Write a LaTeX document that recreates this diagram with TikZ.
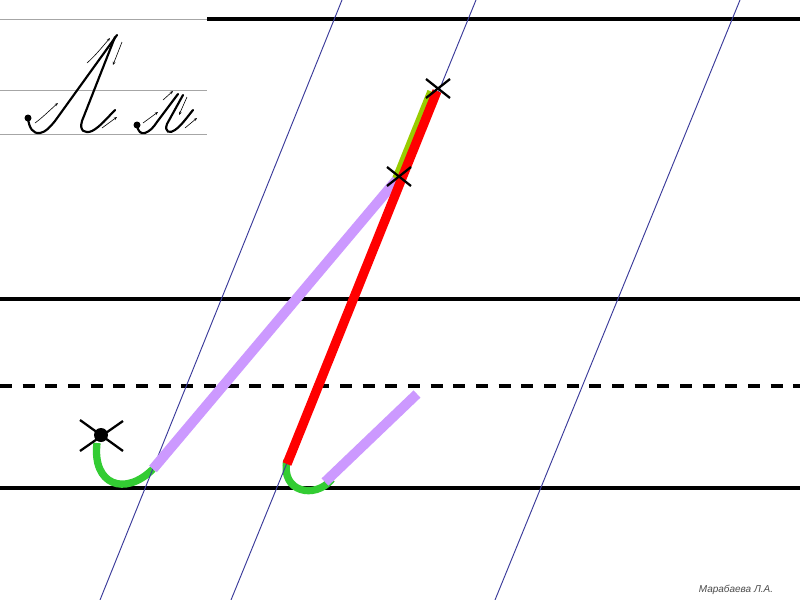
\documentclass[tikz,border=0pt]{standalone}
\usepackage{fontspec}
\newfontfamily\signfont{Liberation Sans}
\usetikzlibrary{arrows.meta}
\definecolor{lav}{HTML}{CC99FF}
\definecolor{hookgreen}{HTML}{33CC33}
\definecolor{olive}{HTML}{99CC00}
\definecolor{guide}{HTML}{3A3A9A}
\tikzset{
  ruled/.style={line width=2.6pt, black},
  dashrule/.style={line width=2.6pt, black, dash pattern=on 9pt off 8pt},
  thinrule/.style={line width=0.7pt, gray!70},
  slant/.style={line width=0.7pt, guide},
  hookstroke/.style={line width=5.5pt, hookgreen},
  lavstroke/.style={line width=7.5pt, lav},
  redstroke/.style={line width=7pt, red},
  olivestroke/.style={line width=4pt, olive},
  crossmark/.style={line width=1.7pt, black},
  ink/.style={line width=1.6pt, black, line cap=round},
  tinyarrow/.style={line width=0.45pt, black, -{Stealth[length=2.5pt,width=2pt]}}
}
\begin{document}
\begin{tikzpicture}[x=0.75pt,y=-0.75pt]
\useasboundingbox (0,0) rectangle (800,600);
\fill[white] (0,0) rectangle (800,600);
% inset guide lines
\draw[thinrule] (0,19) -- (207,19);
\draw[thinrule] (0,90) -- (207,90);
\draw[thinrule] (0,134) -- (207,134);
% main rules
\draw[ruled] (207,19) -- (800,19);
\draw[ruled] (0,299) -- (800,299);
\draw[dashrule] (0,386) -- (800,386);
\draw[ruled] (0,488) -- (800,488);
% hooks
\draw[hookstroke] (97,443) .. controls (92,485) and (125,497) .. (153,469);
\draw[hookstroke] (287,460) .. controls (280,492) and (315,500) .. (332,479);
% slanted guide lines
\draw[slant] (342,0) -- (100,600);
\draw[slant] (476,0) -- (231,600);
\draw[slant] (740,0) -- (495,600);
% strokes
\draw[lavstroke] (153,469) -- (399,177);
\draw[lavstroke] (325,482) -- (417,394);
\draw[olivestroke] (430,91) -- (395,178);
\draw[redstroke] (437,91) -- (287,464);
% start dot and crosses
\fill[black] (101,435) circle (7);
\draw[crossmark] (80,420) -- (123,451) (80,451) -- (123,421);
\draw[crossmark] (387,167) -- (411,186) (387,186) -- (411,167);
\draw[crossmark] (426,79) -- (450,98) (426,98) -- (450,79);
% inset: big letter
\fill (28,118) circle (3.5);
\draw[ink] (28,118) .. controls (29,128) and (33,134) .. (40,133) .. controls (46,132) and (50,127) .. (55,121) -- (117,35);
\draw[ink] (115,37) -- (82,121) .. controls (79,131) and (85,134) .. (92,131) .. controls (100,127) and (108,117) .. (115,110);
\draw[tinyarrow] (87,63) .. controls (96,55) and (103,46) .. (110,38);
\draw[tinyarrow] (35,123) .. controls (42,118) and (50,110) .. (58,103);
\draw[tinyarrow] (122,42) -- (113,65);
\draw[tinyarrow] (102,128) -- (117,117);
% inset: small letter
\fill (137,125) circle (3.5);
\draw[ink] (137,125) .. controls (138,132) and (141,134) .. (145,133) .. controls (150,131) and (153,128) .. (157,122) -- (178,94);
\draw[ink] (183,95) -- (167,124) .. controls (164,132) and (170,134) .. (175,130) .. controls (182,125) and (188,116) .. (193,110);
\draw[tinyarrow] (143,123) -- (158,112);
\draw[tinyarrow] (163,100) -- (173,91);
\draw[tinyarrow] (187,97) -- (179,115);
\draw[tinyarrow] (185,128) -- (197,118);
% signature
\node[font=\signfont\itshape\fontsize{7.5pt}{8pt}\selectfont, text=black!70, anchor=center] (sign) at (736,590) {Марабаева Л.А.};
\end{tikzpicture}
\end{document}
